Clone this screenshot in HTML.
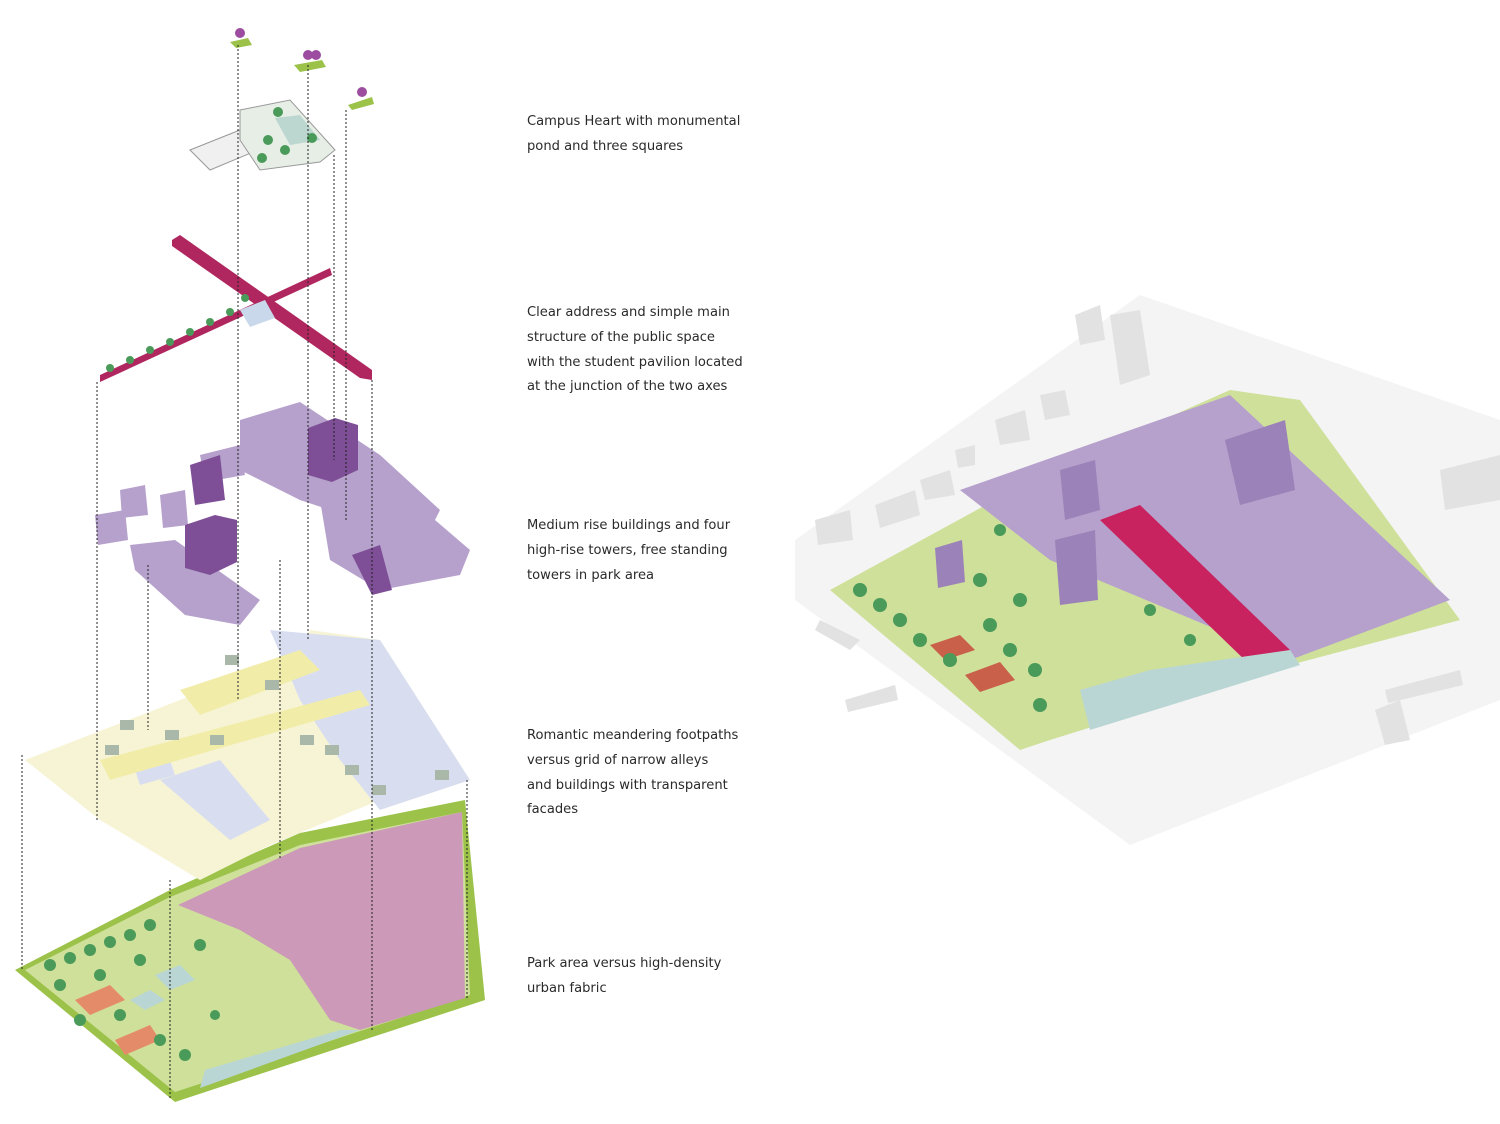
<!DOCTYPE html>
<html><head><meta charset="utf-8"><style>
body{margin:0;background:#fff;width:1500px;height:1124px;overflow:hidden;position:relative;font-family:"DejaVu Sans","Liberation Sans",sans-serif}
.t{position:absolute;left:527px;font-size:13.1px;line-height:24.8px;color:#2a2a2a}
svg{position:absolute;left:0;top:0}
</style></head><body>
<svg width="1500" height="1124" viewBox="0 0 1500 1124">
<polygon points="15,970 170,890 300,833 465,800 485,1000 175,1102" fill="#9cc24a"/>
<polygon points="25,970 170,897 300,845 462,812 470,995 175,1092" fill="#cfe09a"/>
<polygon points="178,905 300,848 462,812 465,998 360,1030 330,1020 290,960 240,930" fill="#cc9ab8"/>
<polygon points="205,1070 340,1030 360,1030 200,1088" fill="#b9d6d4"/>
<polygon points="130,1000 150,990 165,1000 145,1010" fill="#b9d6d4"/>
<polygon points="155,975 180,965 195,980 170,990" fill="#b9d6d4"/>
<polygon points="75,1000 110,985 125,1000 90,1015" fill="#e48c6a"/>
<polygon points="115,1040 150,1025 160,1040 125,1055" fill="#e48c6a"/>
<g fill="#4a9a5a">
<circle cx="50" cy="965" r="6"/><circle cx="70" cy="958" r="6"/><circle cx="90" cy="950" r="6"/><circle cx="110" cy="942" r="6"/><circle cx="130" cy="935" r="6"/><circle cx="150" cy="925" r="6"/><circle cx="60" cy="985" r="6"/><circle cx="100" cy="975" r="6"/><circle cx="140" cy="960" r="6"/><circle cx="160" cy="1040" r="6"/><circle cx="185" cy="1055" r="6"/><circle cx="200" cy="945" r="6"/><circle cx="215" cy="1015" r="5"/><circle cx="120" cy="1015" r="6"/><circle cx="80" cy="1020" r="6"/></g>
<polygon points="25,760 180,700 290,660 310,630 380,640 470,780 380,800 270,845 200,880 100,820" fill="#f7f4d6"/>
<polygon points="270,630 380,640 470,780 380,810 340,760 300,700" fill="#d8def0"/>
<polygon points="160,780 220,760 270,820 230,840" fill="#d8def0"/>
<polygon points="135,770 170,760 175,775 140,785" fill="#d8def0"/>
<polygon points="180,690 300,650 320,670 200,715" fill="#f1eda9"/>
<polygon points="100,760 360,690 370,705 110,780" fill="#f1eda9"/>
<g fill="#a9b8a8"><rect x="225" y="655" width="14" height="10"/><rect x="265" y="680" width="14" height="10"/><rect x="300" y="735" width="14" height="10"/><rect x="345" y="765" width="14" height="10"/><rect x="372" y="785" width="14" height="10"/><rect x="120" y="720" width="14" height="10"/><rect x="165" y="730" width="14" height="10"/><rect x="210" y="735" width="14" height="10"/><rect x="105" y="745" width="14" height="10"/><rect x="435" y="770" width="14" height="10"/><rect x="325" y="745" width="14" height="10"/></g>
<g fill="#b6a1cc">
<polygon points="240,420 300,402 380,455 440,510 430,530 360,520 300,500 240,470"/>
<polygon points="320,500 400,490 470,550 460,575 380,590 330,560"/>
<polygon points="130,545 175,540 260,600 240,625 185,615 135,570"/>
<polygon points="95,515 125,510 128,540 98,545"/>
<polygon points="120,490 145,485 148,515 122,518"/>
<polygon points="160,495 185,490 188,525 163,528"/>
<polygon points="200,455 240,445 245,475 205,482"/>
</g>
<g fill="#7e4f96">
<polygon points="308,428 335,418 358,425 358,470 332,482 308,475"/>
<polygon points="185,525 215,515 237,520 237,562 210,575 185,568"/>
<polygon points="190,465 220,455 225,500 195,505"/>
<polygon points="352,555 380,545 392,590 372,595"/>
</g>
<polygon points="172,240 180,235 372,370 372,380 360,378 172,246" fill="#b0275f"/>
<polygon points="100,375 330,268 332,275 100,382" fill="#b0275f"/>
<polygon points="240,310 265,300 275,318 250,327" fill="#c9d8ea"/>
<g fill="#4a9a5a"><circle cx="110" cy="368" r="4"/><circle cx="130" cy="360" r="4"/><circle cx="150" cy="350" r="4"/><circle cx="170" cy="342" r="4"/><circle cx="190" cy="332" r="4"/><circle cx="210" cy="322" r="4"/><circle cx="230" cy="312" r="4"/><circle cx="245" cy="298" r="4"/></g>
<polygon points="190,150 245,128 270,145 210,170" fill="#f0f0f0" stroke="#999" stroke-width="1"/>
<polygon points="240,110 290,100 335,150 320,162 260,170 240,140" fill="#e6eee6" stroke="#999" stroke-width="1"/>
<polygon points="275,118 300,115 320,140 290,145" fill="#bcd6d0"/>
<g fill="#4a9a5a"><circle cx="278" cy="112" r="5"/><circle cx="268" cy="140" r="5"/><circle cx="285" cy="150" r="5"/><circle cx="312" cy="138" r="5"/><circle cx="262" cy="158" r="5"/></g>
<g fill="#9c4da0"><circle cx="240" cy="33" r="5"/><circle cx="308" cy="55" r="5"/><circle cx="316" cy="55" r="5"/><circle cx="362" cy="92" r="5"/></g>
<g fill="#9cc24a"><polygon points="230,42 248,38 252,45 236,48"/><polygon points="294,65 322,60 326,67 300,72"/><polygon points="348,105 372,97 374,104 352,110"/></g>
<g stroke="#222" stroke-width="1" stroke-dasharray="2,2" fill="none">
<line x1="238" y1="45" x2="238" y2="700"/><line x1="308" y1="65" x2="308" y2="640"/><line x1="346" y1="110" x2="346" y2="520"/><line x1="334" y1="155" x2="334" y2="460"/><line x1="372" y1="380" x2="372" y2="1030"/><line x1="97" y1="382" x2="97" y2="820"/><line x1="22" y1="755" x2="22" y2="970"/><line x1="170" y1="880" x2="170" y2="1100"/><line x1="148" y1="565" x2="148" y2="730"/><line x1="280" y1="560" x2="280" y2="860"/><line x1="467" y1="780" x2="467" y2="1000"/>
</g>
<polygon points="795,540 1140,295 1500,420 1500,700 1130,845 795,600" fill="#f4f4f4"/>
<polygon points="830,590 1050,470 1230,390 1300,400 1460,620 1290,665 1050,740 1020,750" fill="#cfe09a"/>
<polygon points="960,490 1230,395 1450,600 1290,660 1050,560" fill="#b6a1cc"/>
<polygon points="1100,520 1140,505 1290,650 1250,665" fill="#c8225f"/>
<polygon points="1080,690 1150,670 1290,650 1300,665 1090,730" fill="#b9d6d4"/>
<polygon points="930,645 960,635 975,650 945,660" fill="#c9604a"/>
<polygon points="965,675 1000,662 1015,680 980,692" fill="#c9604a"/>
<g fill="#9b82b8"><polygon points="1225,440 1285,420 1295,490 1240,505"/><polygon points="1055,540 1095,530 1098,600 1060,605"/><polygon points="1060,470 1095,460 1100,510 1065,520"/><polygon points="935,548 962,540 965,582 938,588"/></g>
<g fill="#4a9a5a"><circle cx="860" cy="590" r="7"/><circle cx="880" cy="605" r="7"/><circle cx="900" cy="620" r="7"/><circle cx="920" cy="640" r="7"/><circle cx="950" cy="660" r="7"/><circle cx="990" cy="625" r="7"/><circle cx="1010" cy="650" r="7"/><circle cx="1035" cy="670" r="7"/><circle cx="1020" cy="600" r="7"/><circle cx="980" cy="580" r="7"/><circle cx="1040" cy="705" r="7"/><circle cx="1000" cy="530" r="6"/><circle cx="1150" cy="610" r="6"/><circle cx="1190" cy="640" r="6"/></g>
<g fill="#e2e2e2"><polygon points="1075,315 1100,305 1105,340 1080,345"/><polygon points="1110,315 1140,310 1150,375 1120,385"/><polygon points="995,420 1025,410 1030,440 1000,445"/><polygon points="1040,395 1065,390 1070,415 1045,420"/><polygon points="955,450 975,445 975,465 958,468"/><polygon points="920,480 950,470 955,495 925,500"/><polygon points="875,505 915,490 920,515 880,528"/><polygon points="815,520 850,510 853,540 818,545"/><polygon points="1440,470 1500,455 1500,500 1445,510"/><polygon points="1385,690 1460,670 1463,685 1388,703"/><polygon points="820,620 860,640 850,650 815,630"/><polygon points="845,700 895,685 898,700 848,712"/><polygon points="1375,710 1400,700 1410,740 1385,745"/></g>
</svg>
<div class="t" style="top:110px">Campus Heart with monumental<br>pond and three squares</div>
<div class="t" style="top:301px">Clear address and simple main<br>structure of the public space<br>with the student pavilion located<br>at the junction of the two axes</div>
<div class="t" style="top:514px">Medium rise buildings and four<br>high-rise towers, free standing<br>towers in park area</div>
<div class="t" style="top:724px">Romantic meandering footpaths<br>versus grid of narrow alleys<br>and buildings with transparent<br>facades</div>
<div class="t" style="top:952px">Park area versus high-density<br>urban fabric</div>
</body></html>
